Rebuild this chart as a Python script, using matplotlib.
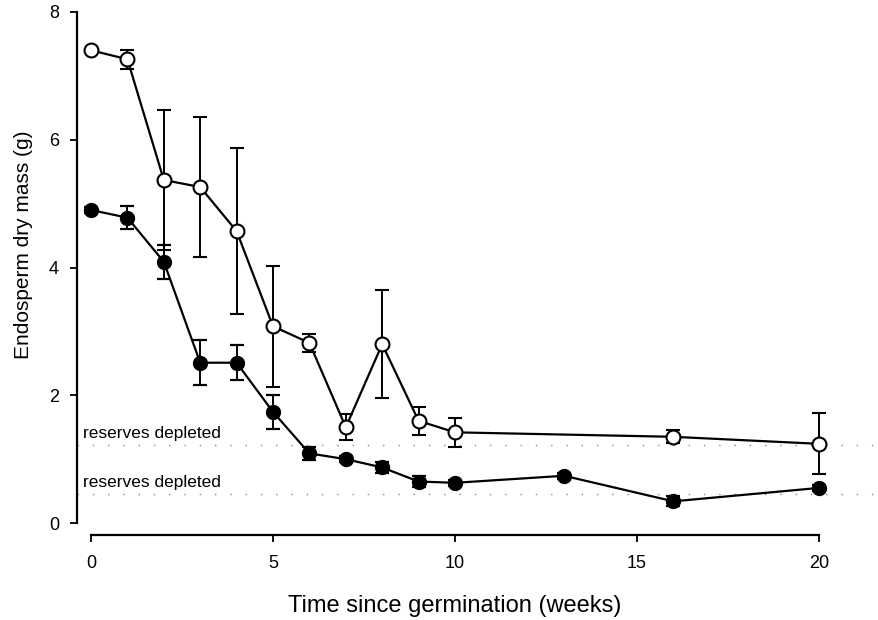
import numpy as np
import matplotlib.pyplot as plt

plt.rcParams['font.family'] = ['Liberation Sans', 'DejaVu Sans']

# Endosperm dry mass over time, two seed groups (mean +/- error)
weeks_open = [0, 1, 2, 3, 4, 5, 6, 7, 8, 9, 10, 16, 20]
mass_open = [7.40, 7.26, 5.37, 5.26, 4.57, 3.08, 2.82, 1.50, 2.80, 1.60, 1.42, 1.35, 1.24]
err_open = [0.0, 0.15, 1.10, 1.10, 1.30, 0.95, 0.14, 0.20, 0.85, 0.22, 0.23, 0.10, 0.48]

weeks_filled = [0, 1, 2, 3, 4, 5, 6, 7, 8, 9, 10, 13, 16, 20]
mass_filled = [4.90, 4.78, 4.09, 2.51, 2.51, 1.74, 1.09, 1.00, 0.87, 0.65, 0.63, 0.74, 0.34, 0.55]
err_filled = [0.05, 0.18, 0.27, 0.35, 0.27, 0.27, 0.10, 0.05, 0.08, 0.08, 0.05, 0.05, 0.08, 0.05]

# levels at which reserves are considered depleted
depleted_open = 1.22
depleted_filled = 0.45

fig = plt.figure(figsize=(8.79, 6.2), dpi=100)
ax = fig.add_axes([0.0876, 0.137, 0.912, 0.855])

ax.axhline(depleted_open, color='#888888', lw=1.0, ls=(0, (1, 10)), zorder=1)
ax.axhline(depleted_filled, color='#888888', lw=1.0, ls=(0, (1, 10)), zorder=1)
for level in (depleted_open, depleted_filled):
    ax.text(-0.22, level + 0.11, 'reserves depleted', fontsize=12.5,
            va='baseline', ha='left')

ax.errorbar(weeks_open, mass_open, yerr=err_open, fmt='-o', color='black',
            mfc='white', mec='black', ms=10, mew=1.5, lw=1.6,
            elinewidth=1.4, capsize=5, capthick=1.6, zorder=3)
ax.errorbar(weeks_filled, mass_filled, yerr=err_filled, fmt='-o', color='black',
            mfc='black', mec='black', ms=10, lw=1.6,
            elinewidth=1.4, capsize=5, capthick=1.6, zorder=3)

ax.set_xlim(-0.385, 21.64)
ax.set_ylim(-0.188, 8.11)
ax.spines['top'].set_visible(False)
ax.spines['right'].set_visible(False)
ax.spines['left'].set_bounds(0, 8)
ax.spines['bottom'].set_bounds(0, 20)
ax.spines['left'].set_linewidth(1.6)
ax.spines['bottom'].set_linewidth(1.6)

ax.set_xticks([0, 5, 10, 15, 20])
ax.set_yticks([0, 2, 4, 6, 8])
ax.tick_params(direction='out', length=5, width=1.3, labelsize=13)
ax.tick_params(axis='x', pad=9)
ax.tick_params(axis='y', pad=8)

ax.set_xlabel('Time since germination (weeks)', fontsize=17)
ax.set_ylabel('Endosperm dry mass (g)', fontsize=15)
ax.xaxis.set_label_coords(0.471, -0.113)
ax.yaxis.set_label_coords(-0.055, 0.547)

fig.savefig('out.png', dpi=100)
